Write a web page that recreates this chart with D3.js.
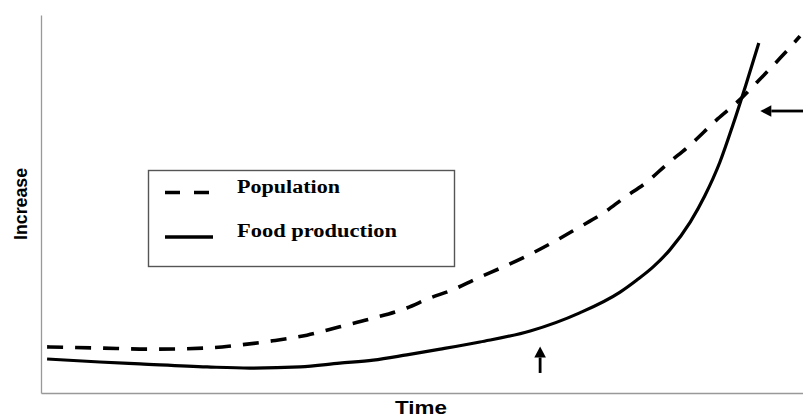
<!DOCTYPE html>
<html><head><meta charset="utf-8">
<script src="https://cdn.jsdelivr.net/npm/d3@7"></script>
<style>html,body{margin:0;padding:0;background:#fff;}svg{display:block;}</style>
</head><body>
<svg id="chart" width="803" height="417"></svg>
<script>
// ---- data (time 0..100, increase 0..100, arbitrary units) ----
const seriesNames = ["Population", "Food production"];
const popTime  = [0.8, 7.7, 14.3, 21.8, 26.1, 30.4, 34.9, 39.2, 43.6, 48.0, 51.0, 53.9, 57.3, 60.6, 64.0, 67.3, 70.5, 73.8, 76.5, 79.5, 82.3, 84.9, 88.8, 91.5, 94.0, 97.0, 99.6];
const popValue = [12.2, 11.9, 11.6, 11.9, 12.7, 13.8, 15.3, 17.5, 19.8, 22.5, 25.1, 27.2, 30.4, 33.3, 36.5, 40.0, 43.7, 47.6, 51.6, 55.8, 60.8, 65.1, 72.5, 77.2, 82.3, 88.6, 94.4];
const foodTime  = [0.8, 7.7, 13.0, 21.8, 27.4, 34.0, 39.2, 43.6, 48.0, 52.4, 57.6, 64.2, 70.7, 76.0, 78.2, 80.3, 82.5, 85.2, 87.1, 89.1, 90.8, 92.5, 94.2];
const foodValue = [9.0, 8.2, 7.7, 6.9, 6.6, 6.9, 7.9, 8.7, 10.1, 11.6, 13.5, 16.4, 21.2, 26.7, 29.9, 33.3, 37.8, 45.2, 52.1, 61.1, 70.9, 81.5, 92.6];
// annotation arrows: [fromTime, fromValue, toTime, toValue]
const crossArrow = [100, 74.6, 94.4, 74.6];
const riseArrow  = [65.5, 5.3, 65.5, 12.3];
const axisLabels = {x: "Time", y: "Increase"};

// ---- layout ----
const svg = d3.select("#chart");
const x = d3.scaleLinear().domain([0, 100]).range([41, 803]);
const y = d3.scaleLinear().domain([0, 100]).range([393, 15]);

// axes (plain lines, no ticks)
svg.append("g").attr("transform", "translate(0,393)")
  .call(d3.axisBottom(x).tickValues([]).tickSizeOuter(0))
  .call(g => g.select(".domain").attr("stroke", "#999").attr("stroke-width", 1.3));
svg.append("g").attr("transform", "translate(41,0)")
  .call(d3.axisLeft(y).tickValues([]).tickSizeOuter(0))
  .call(g => g.select(".domain").attr("stroke", "#999").attr("stroke-width", 1.3));

// axis titles
svg.append("text").text(axisLabels.x)
  .attr("x", 421).attr("y", 414).attr("text-anchor", "middle")
  .attr("font-family", "Liberation Sans, Arial, sans-serif").attr("font-weight", "bold")
  .attr("font-size", 17.5).attr("textLength", 52).attr("lengthAdjust", "spacingAndGlyphs");
svg.append("text").text(axisLabels.y)
  .attr("transform", "translate(26.5,204) rotate(-90)").attr("text-anchor", "middle")
  .attr("font-family", "Liberation Sans, Arial, sans-serif").attr("font-weight", "bold")
  .attr("font-size", 18.5).attr("textLength", 72).attr("lengthAdjust", "spacingAndGlyphs");

// curves
const line = d3.line().x(d => x(d[0])).y(d => y(d[1])).curve(d3.curveMonotoneX);
const popData = popTime.map((t, i) => [t, popValue[i]]);
const foodData = foodTime.map((t, i) => [t, foodValue[i]]);

svg.append("path").datum(popData).attr("d", line)
  .attr("fill", "none").attr("stroke", "#000").attr("stroke-width", 3.6)
  .attr("stroke-dasharray", "16,12");
svg.append("path").datum(foodData).attr("d", line)
  .attr("fill", "none").attr("stroke", "#000").attr("stroke-width", 3.2);

// arrows
function arrow(a) {
  const x1 = x(a[0]), y1 = y(a[1]), x2 = x(a[2]), y2 = y(a[3]);
  const ang = Math.atan2(y2 - y1, x2 - x1);
  const L = 11, W = 5.8;
  const bx = x2 - L * Math.cos(ang), by = y2 - L * Math.sin(ang);
  svg.append("line").attr("x1", x1).attr("y1", y1).attr("x2", bx).attr("y2", by)
    .attr("stroke", "#000").attr("stroke-width", 2.8);
  const px = -Math.sin(ang), py = Math.cos(ang);
  svg.append("path")
    .attr("d", `M${x2},${y2}L${bx + px * W},${by + py * W}L${bx - px * W},${by - py * W}Z`)
    .attr("fill", "#000");
}
arrow(crossArrow);
arrow(riseArrow);

// legend
const lg = svg.append("g");
lg.append("rect").attr("x", 148.5).attr("y", 170.5).attr("width", 306).attr("height", 96)
  .attr("fill", "#fff").attr("stroke", "#555").attr("stroke-width", 1.4);
const legY = [192.5, 237];
const dashes = ["15,14", null];
seriesNames.forEach((name, i) => {
  lg.append("line").attr("x1", 165).attr("x2", 213).attr("y1", legY[i]).attr("y2", legY[i])
    .attr("stroke", "#000").attr("stroke-width", 3.4)
    .attr("stroke-dasharray", dashes[i]);
  lg.append("text").text(name).attr("x", 237).attr("y", legY[i] + (i === 0 ? 0.5 : 0))
    .attr("font-family", "Liberation Serif, Times New Roman, serif").attr("font-weight", "bold")
    .attr("font-size", 18.5)
    .attr("textLength", i === 0 ? 103 : 160).attr("lengthAdjust", "spacingAndGlyphs");
});
</script>
</body></html>
